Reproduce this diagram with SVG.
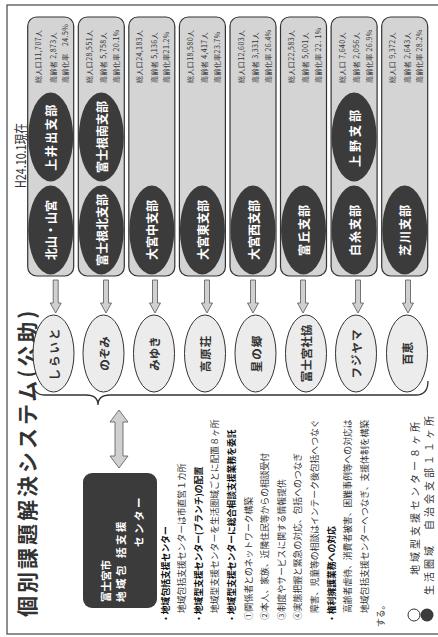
<svg xmlns="http://www.w3.org/2000/svg" width="438" height="637" viewBox="0 0 438 637">
<style>
text{font-family:"Noto Sans CJK JP","Noto Sans",sans-serif;dominant-baseline:central}
.frame{fill:none;stroke:#444;stroke-width:1.2}
.col{fill:#d4d4d4;stroke:#333;stroke-width:1.2}
.dk{fill:#3b3b3b}
.dl{fill:#fff;font-weight:bold;font-size:12px;text-anchor:middle}
.pop{fill:#333;font-size:7px;letter-spacing:0.4px}
.ov{fill:#ececec;stroke:#333;stroke-width:1}
.ol{fill:#333;font-weight:bold;font-size:11.5px;text-anchor:middle}
.ar{fill:#d0d0d0;stroke:#555;stroke-width:0.8}
.bt{fill:#333;font-size:8.8px}
.bb{fill:#111;font-size:8.8px;font-weight:bold}
.lg{fill:#333;font-size:10px;letter-spacing:3px}
</style>
<g transform="translate(0,637) rotate(-90)">
<rect class="frame" x="3" y="7" width="629" height="460"/>
<g id="title">
<text x="20" y="26" font-size="21" font-weight="bold" fill="#333" letter-spacing="3">個別課題解決システム(公助)</text>
</g>
<g id="date">
<text x="449" y="20" font-size="14" fill="#333" textLength="65" lengthAdjust="spacingAndGlyphs">H24.10.1現在</text>
</g>

<g id="col1">
<rect class="col" x="361" y="27.7" width="259" height="46" rx="9"/>
<ellipse class="dk" cx="407" cy="50.7" rx="44.5" ry="22.5"/>
<text class="dl" x="407" y="50.7">北山・山宮</text>
<ellipse class="dk" cx="500" cy="50.7" rx="44.5" ry="22.5"/>
<text class="dl" x="500" y="50.7" letter-spacing="1.5">上井出支部</text>
<text class="pop" x="554" y="38.3">総人口11,707人</text>
<text class="pop" x="554" y="52.5">高齢者 2,873人</text>
<text class="pop" x="554" y="65.2">高齢化率　24.5%</text>
</g>
<g id="col2">
<rect class="col" x="361" y="78.3" width="259" height="46" rx="9"/>
<ellipse class="dk" cx="407" cy="101.3" rx="44.5" ry="22.5"/>
<text class="dl" x="407" y="101.3" font-size="10.5">富士根北支部</text>
<ellipse class="dk" cx="500" cy="101.3" rx="44.5" ry="22.5"/>
<text class="dl" x="500" y="101.3" font-size="11">富士根南支部</text>
<text class="pop" x="554" y="88.9">総人口28,551人</text>
<text class="pop" x="554" y="103.1">高齢者 5,758人</text>
<text class="pop" x="554" y="115.8">高齢化率 20.1%</text>
</g>
<g id="col3">
<rect class="col" x="361" y="128.8" width="259" height="46" rx="9"/>
<ellipse class="dk" cx="407" cy="151.8" rx="44.5" ry="22.5"/>
<text class="dl" x="407" y="151.8">大宮中支部</text>
<text class="pop" x="554" y="139.4">総人口24,183人</text>
<text class="pop" x="554" y="153.6">高齢者 5,136人</text>
<text class="pop" x="554" y="166.3">高齢化率21.2%</text>
</g>
<g id="col4">
<rect class="col" x="361" y="179.4" width="259" height="46" rx="9"/>
<ellipse class="dk" cx="407" cy="202.4" rx="44.5" ry="22.5"/>
<text class="dl" x="407" y="202.4">大宮東支部</text>
<text class="pop" x="554" y="190">総人口18,580人</text>
<text class="pop" x="554" y="204.2">高齢者 4,417人</text>
<text class="pop" x="554" y="216.9">高齢化率23.7%</text>
</g>
<g id="col5">
<rect class="col" x="361" y="230" width="259" height="46" rx="9"/>
<ellipse class="dk" cx="407" cy="253" rx="44.5" ry="22.5"/>
<text class="dl" x="407" y="253">大宮西支部</text>
<text class="pop" x="554" y="240.6">総人口12,603人</text>
<text class="pop" x="554" y="254.8">高齢者 3,331人</text>
<text class="pop" x="554" y="267.5">高齢化率 26.4%</text>
</g>
<g id="col6">
<rect class="col" x="361" y="280.5" width="259" height="46" rx="9"/>
<ellipse class="dk" cx="407" cy="303.5" rx="44.5" ry="22.5"/>
<text class="dl" x="407" y="303.5" letter-spacing="1">富丘支部</text>
<text class="pop" x="554" y="291.1">総人口22,583人</text>
<text class="pop" x="554" y="305.3">高齢者 5,001人</text>
<text class="pop" x="554" y="318">高齢化率 22. 1%</text>
</g>
<g id="col7">
<rect class="col" x="361" y="331.1" width="259" height="46" rx="9"/>
<ellipse class="dk" cx="407" cy="354.1" rx="44.5" ry="22.5"/>
<text class="dl" x="407" y="354.1" letter-spacing="1">白糸支部</text>
<ellipse class="dk" cx="500" cy="354.1" rx="44.5" ry="22.5"/>
<text class="dl" x="500" y="354.1" letter-spacing="3">上野支部</text>
<text class="pop" x="554" y="341.7">総人口 7,640人</text>
<text class="pop" x="554" y="355.9">高齢者 2,056人</text>
<text class="pop" x="554" y="368.6">高齢化率 26.9%</text>
</g>
<g id="col8">
<rect class="col" x="361" y="381.7" width="259" height="46" rx="9"/>
<ellipse class="dk" cx="407" cy="404.7" rx="44.5" ry="22.5"/>
<text class="dl" x="407" y="404.7" letter-spacing="1">芝川支部</text>
<text class="pop" x="554" y="392.3">総人口 9,372人</text>
<text class="pop" x="554" y="406.5">高齢者 2,643人</text>
<text class="pop" x="554" y="419.2">高齢化率 28.2%</text>
</g>

<g id="connectors">
<path class="ar" d="M357,53.2H334V50.2L324,55.7L334,61.2V58.2H357Z"/>
<path class="ar" d="M357,103.5H334V100.5L324,106L334,111.5V108.5H357Z"/>
<path class="ar" d="M357,152.5H334V149.5L324,155L334,160.5V157.5H357Z"/>
<path class="ar" d="M357,204.5H334V201.5L324,207L334,212.5V209.5H357Z"/>
<path class="ar" d="M357,250.5H334V247.5L324,253L334,258.5V255.5H357Z"/>
<path class="ar" d="M357,300.5H334V297.5L324,303L334,308.5V305.5H357Z"/>
<path class="ar" d="M357,355.5H334V352.5L324,358L334,363.5V360.5H357Z"/>
<path class="ar" d="M357,405.5H334V402.5L324,408L334,413.5V410.5H357Z"/>
<path d="M254,33Q242,33 242,45L242,86Q242,98 232,98Q242,98 242,110L242,416Q242,428 256,428" fill="none" stroke="#333" stroke-width="1.3"/>
<path class="ar" d="M169,119L181,110V115H215V110L227,119L215,128V123H181V128Z"/>
</g>

<g id="ov1"><ellipse class="ov" cx="283.5" cy="53.5" rx="38.5" ry="20.5"/><text class="ol" x="283.5" y="53.5" letter-spacing="2">しらいと</text></g>
<g id="ov2"><ellipse class="ov" cx="283.5" cy="103.5" rx="38.5" ry="20.5"/><text class="ol" x="283.5" y="103.5">のぞみ</text></g>
<g id="ov3"><ellipse class="ov" cx="283.5" cy="154" rx="38.5" ry="20.5"/><text class="ol" x="283.5" y="154">みゆき</text></g>
<g id="ov4"><ellipse class="ov" cx="283.5" cy="205" rx="38.5" ry="20.5"/><text class="ol" x="283.5" y="205" letter-spacing="1">高原荘</text></g>
<g id="ov5"><ellipse class="ov" cx="283.5" cy="255.5" rx="38.5" ry="20.5"/><text class="ol" x="283.5" y="255.5" letter-spacing="1">星の郷</text></g>
<g id="ov6"><ellipse class="ov" cx="283.5" cy="306" rx="38.5" ry="20.5"/><text class="ol" x="283.5" y="306">富士宮社協</text></g>
<g id="ov7"><ellipse class="ov" cx="283.5" cy="356" rx="38.5" ry="20.5"/><text class="ol" x="283.5" y="356" letter-spacing="1">フジヤマ</text></g>
<g id="ov8"><ellipse class="ov" cx="283.5" cy="407" rx="38.5" ry="20.5"/><text class="ol" x="283.5" y="407" font-size="12">百恵</text></g>

<g id="center">
<rect x="29" y="83" width="135" height="74" rx="9" fill="#3b3b3b"/>
<text x="35" y="105" font-size="10.5" font-weight="bold" fill="#fff">富士宮市</text>
<text x="35" y="120" font-size="10.5" font-weight="bold" fill="#fff" letter-spacing="2.5">地域包 括支援</text>
<text x="90" y="138" font-size="10.5" font-weight="bold" fill="#fff" letter-spacing="2.5">センター</text>
</g>

<g id="notes">
<text class="bb" x="14" y="165">・地域包括支援センター</text>
<text class="bt" x="24" y="181.6">地域包括支援センターは市直営１カ所</text>
<text class="bb" x="14" y="198.2">・地域型支援センター(ブランチ)の配置</text>
<text class="bt" x="24" y="214.8">地域型支援センターを生活圏域ごとに配置８ヶ所</text>
<text class="bb" x="14" y="231.4">・地域型支援センターに総合相談支援業務を委託</text>
<text class="bt" x="17" y="248">①関係者とのネットワーク構築</text>
<text class="bt" x="17" y="264.6">②本人、家族、近隣住民等からの相談受付</text>
<text class="bt" x="17" y="281.2">③制度やサービスに関する情報提供</text>
<text class="bt" x="17" y="297.8">④実態把握と緊急の対応、包括へのつなぎ</text>
<text class="bt" x="24" y="314.4">障害、児童等の相談はインテーク後包括へつなぐ</text>
<text class="bb" x="14" y="331">・権利擁護業務への対応</text>
<text class="bt" x="24" y="347.6">高齢者虐待、消費者被害、困難事例等への対応は</text>
<text class="bt" x="24" y="364.2">地域包括支援センターへつなぎ、支援体制を構築</text>
<text class="bt" x="10" y="380.8">する。</text>
</g>

<g id="legend">
<circle cx="22" cy="414" r="6" fill="#fff" stroke="#333" stroke-width="1"/>
<circle cx="22" cy="427" r="6.5" fill="#3b3b3b"/>
<text class="lg" x="62" y="414">地域型支援センター８ヶ所</text>
<text class="lg" x="42" y="428">生活圏域　自治会支部１１ヶ所</text>
</g>
</g>
</svg>
